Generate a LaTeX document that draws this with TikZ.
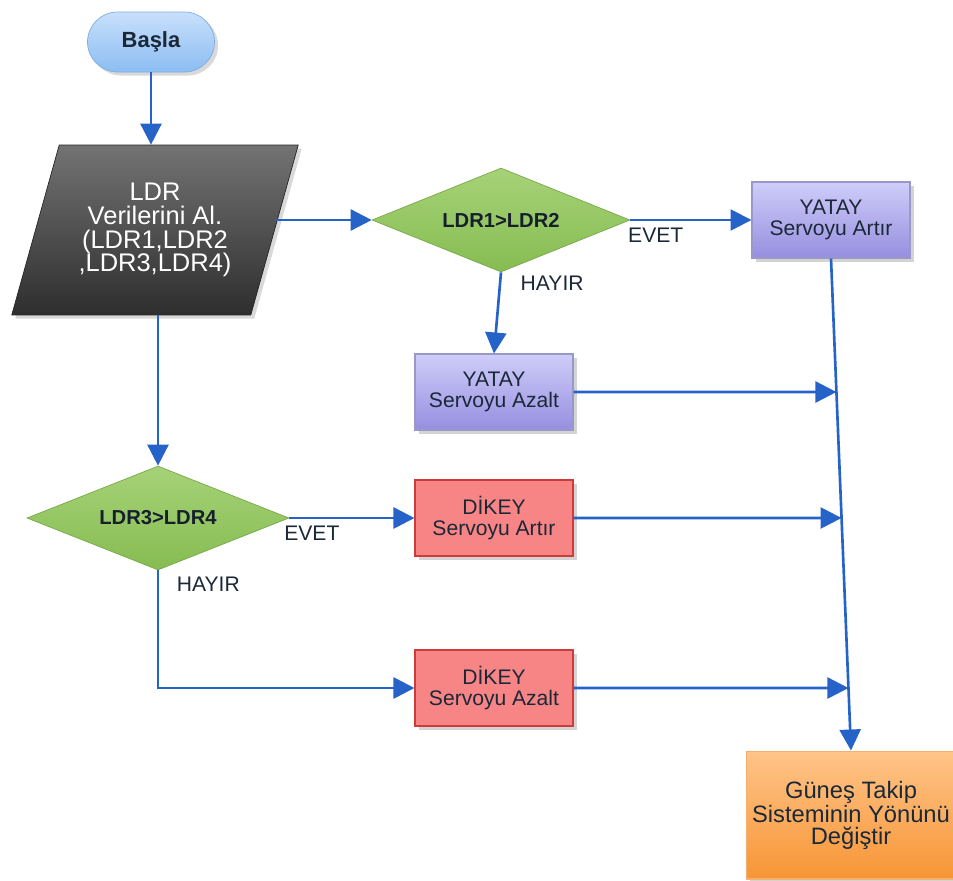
\documentclass[tikz,border=0pt]{standalone}
\usepackage{fontspec}
\setmainfont{Liberation Sans}
\usetikzlibrary{positioning,arrows.meta,shapes.geometric,shadows,calc}
\definecolor{flowblue}{HTML}{2563C8}
\definecolor{textnavy}{HTML}{1B2838}
\definecolor{starttop}{HTML}{C8E0FB}
\definecolor{startbot}{HTML}{8CBDF3}
\definecolor{startline}{HTML}{7EAEE0}
\definecolor{lavtop}{HTML}{CFCDF9}
\definecolor{lavbot}{HTML}{968EDF}
\definecolor{lavline}{HTML}{9A98C8}
\definecolor{redfill}{HTML}{F78585}
\definecolor{redline}{HTML}{D03A3A}
\definecolor{greentop}{HTML}{A6D277}
\definecolor{greenbot}{HTML}{86BC52}
\definecolor{greenline}{HTML}{78A84A}
\definecolor{orgtop}{HTML}{FFC488}
\definecolor{orgbot}{HTML}{F79536}
\definecolor{orgline}{HTML}{F5B070}

\tikzset{
  arr/.style={draw=flowblue, line width=1.5pt, -{Triangle[length=0.42cm, width=0.42cm]}},
  lbl/.style={font=\fontsize{12}{13}\selectfont, text=textnavy, inner sep=1pt},
  box/.style={rectangle, minimum width=3.16cm, minimum height=1.52cm, align=center,
    font=\fontsize{12}{11.5}\selectfont, text=textnavy, line width=0.6pt,
    drop shadow={shadow xshift=2pt, shadow yshift=-2pt, opacity=0.35}},
  yatay/.style={box, draw=lavline, top color=lavtop, bottom color=lavbot},
  dikey/.style={box, draw=redline, fill=redfill},
  decision/.style={diamond, aspect=2.5, minimum width=5.16cm, minimum height=2.08cm,
    font=\bfseries\fontsize{11.5}{12}\selectfont, text=textnavy!80!black, draw=greenline,
    top color=greentop, bottom color=greenbot, inner sep=0pt}
}

\begin{document}
\begin{tikzpicture}[x=0.02cm, y=-0.02cm]
  \useasboundingbox (0,0) rectangle (953,880);
  \node[rectangle, rounded corners=0.6cm, minimum width=2.54cm, minimum height=1.2cm,
    draw=startline, top color=starttop, bottom color=startbot,
    font=\bfseries\fontsize{12.5}{13}\selectfont, text=textnavy,
    drop shadow={shadow xshift=2pt, shadow yshift=-2pt, opacity=0.3}] (start) at (151,42) {Başla};
  \node[trapezium, trapezium left angle=69, trapezium right angle=111, trapezium stretches=true,
    minimum width=5.74cm, minimum height=3.4cm, draw=black!85, top color=black!55, bottom color=black!82,
    text=white, align=center, font=\fontsize{14.5}{13.6}\selectfont,
    drop shadow={shadow xshift=2pt, shadow yshift=-2pt, opacity=0.3}] (input) at (155,230)
    {LDR\\Verilerini Al.\\(LDR1,LDR2\\,LDR3,LDR4)};
  \node[decision] (dec1) at (501,220) {LDR1>LDR2};
  \node[yatay] (yart) at (831,220) {YATAY\\Servoyu Artır};
  \node[yatay] (yaz) at (494,392) {YATAY\\Servoyu Azalt};
  \node[decision, minimum width=5.24cm] (dec2) at (158,518) {LDR3>LDR4};
  \node[dikey] (dart) at (494,518) {DİKEY\\Servoyu Artır};
  \node[dikey] (daz) at (494,688) {DİKEY\\Servoyu Azalt};
  \node[box, minimum width=4.02cm, minimum height=2.56cm, draw=orgline, top color=orgtop,
    bottom color=orgbot, font=\fontsize{13.5}{12.5}\selectfont] (final) at (851,815)
    {Güneş Takip\\Sisteminin Yönünü\\Değiştir};

  \coordinate (m1) at (intersection of yart.south--final.north and yaz.east--yaz.west);
  \coordinate (m2) at (intersection of yart.south--final.north and dart.east--dart.west);
  \coordinate (m3) at (intersection of yart.south--final.north and daz.east--daz.west);

  \draw[arr] (start) -- (start |- input.north);
  \draw[arr] (input.east |- dec1.west) -- (dec1.west);
  \draw[arr] (dec1.east) -- node[lbl, pos=0.21, below=3pt] {EVET} (yart.west);
  \draw[arr] (dec1.south) -- node[lbl, pos=0.13, right=10pt] {HAYIR} (yaz.north);
  \draw[arr] (yart.south) -- (final.north);
  \draw[arr] (yaz.east) -- (m1);
  \draw[arr] (input.south -| dec2.north) -- (dec2.north);
  \draw[arr] (dec2.east) -- node[lbl, pos=0.18, below=3pt] {EVET} (dart.west);
  \draw[arr] (dec2.south) |- node[lbl, pos=0.06, right=9pt] {HAYIR} (daz.west);
  \draw[arr] (dart.east) -- (m2);
  \draw[arr] (daz.east) -- (m3);
\end{tikzpicture}
\end{document}
